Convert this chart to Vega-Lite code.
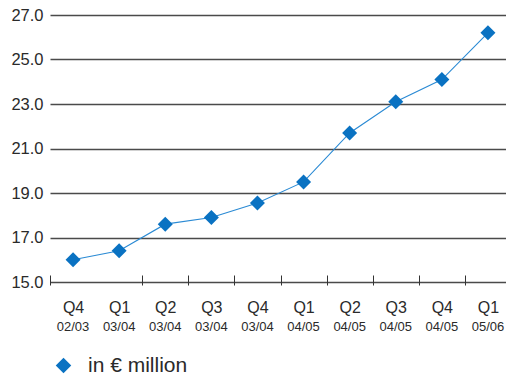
{
  "$schema": "https://vega.github.io/schema/vega-lite/v6.json",
  "autosize": {"type": "none"},
  "padding": {"left": 52, "top": 15, "right": 0, "bottom": 99},
  "width": 454,
  "height": 267,
  "config": {
    "view": {"stroke": null},
    "font": "Liberation Sans"
  },
  "data": {
    "values": [
      {"q": "Q4 02/03", "v": 16.0},
      {"q": "Q1 03/04", "v": 16.4},
      {"q": "Q2 03/04", "v": 17.6},
      {"q": "Q3 03/04", "v": 17.9},
      {"q": "Q4 03/04", "v": 18.55},
      {"q": "Q1 04/05", "v": 19.5},
      {"q": "Q2 04/05", "v": 21.7},
      {"q": "Q3 04/05", "v": 23.1},
      {"q": "Q4 04/05", "v": 24.1},
      {"q": "Q1 05/06", "v": 26.2}
    ]
  },
  "layer": [
    {
      "mark": {"type": "line", "color": "#2a8ad4", "strokeWidth": 1.1},
      "encoding": {
        "x": {
          "field": "q", "type": "ordinal", "sort": null,
          "scale": {"range": [-2, 459], "paddingInner": 0, "paddingOuter": 0},
          "axis": {
            "orient": "bottom",
            "title": null,
            "domain": false,
            "grid": false,
            "offset": -7,
            "tickBand": "extent",
            "tickSize": 10,
            "tickColor": {"condition": {"test": "datum.value === 'Q4 02/03'", "value": "transparent"}, "value": "#333"},
            "tickWidth": 1,
            "labelAngle": 0,
            "labelExpr": "split(datum.label, ' ')[0]",
            "labelFontSize": 16,
            "labelColor": "#2a2a2a",
            "labelPadding": 14
          }
        },
        "y": {
          "field": "v", "type": "quantitative",
          "scale": {"domain": [15, 27], "nice": false, "zero": false},
          "axis": {
            "title": null,
            "values": [15, 17, 19, 21, 23, 25, 27],
            "format": ".1f",
            "domain": false,
            "ticks": false,
            "grid": true,
            "gridColor": "#4a4a4a",
            "gridWidth": 1.3,
            "labelFontSize": 16.5,
            "labelColor": "#2a2a2a",
            "labelPadding": 9
          }
        }
      }
    },
    {
      "mark": {"type": "point", "shape": "diamond", "filled": true, "size": 225, "opacity": 1},
      "encoding": {
        "x": {
          "field": "q", "type": "ordinal", "sort": null,
          "axis": {
            "orient": "bottom",
            "title": null,
            "domain": false,
            "grid": false,
            "ticks": false,
            "labelAngle": 0,
            "labelExpr": "split(datum.label, ' ')[1]",
            "labelFontSize": 13,
            "labelColor": "#2a2a2a",
            "labelPadding": 38
          }
        },
        "y": {"field": "v", "type": "quantitative"},
        "color": {
          "datum": "in € million",
          "scale": {"range": ["#0a72c2"]},
          "legend": {
            "title": null,
            "orient": "none",
            "legendX": 1,
            "legendY": 340,
            "symbolType": "diamond",
            "symbolSize": 240,
            "labelFontSize": 21,
            "labelColor": "#2a2a2a",
            "labelOffset": 14
          }
        }
      }
    }
  ],
  "resolve": {"axis": {"x": "independent"}}
}
